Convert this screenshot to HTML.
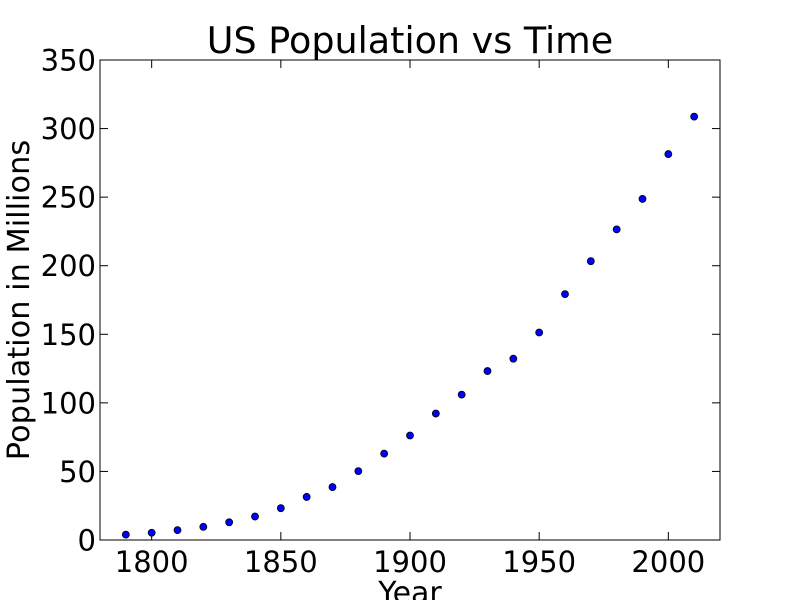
<!DOCTYPE html>
<html><head><meta charset="utf-8"><style>
body{margin:0;background:#fff;}
svg text{font-family:"DejaVu Sans","Liberation Sans",sans-serif;fill:#000;}
</style></head><body>
<svg width="800" height="600" xmlns="http://www.w3.org/2000/svg">
<rect width="800" height="600" fill="#fff"/>
<g id="ticks"></g>
<g id="points"></g>
<rect x="100" y="60" width="620" height="480" fill="none" stroke="#000" stroke-width="1"/>
<text x="410" y="53" font-size="36.5" text-anchor="middle">US Population vs Time</text>
<text x="410" y="603" font-size="30" text-anchor="middle">Year</text>
<text transform="translate(29,300) rotate(-90)" font-size="30.4" text-anchor="middle">Population in Millions</text>
</svg>
<script>
const years=[1790,1800,1810,1820,1830,1840,1850,1860,1870,1880,1890,1900,1910,1920,1930,1940,1950,1960,1970,1980,1990,2000,2010];
const population=[3.9,5.3,7.2,9.6,12.9,17.1,23.2,31.4,38.6,50.2,63.0,76.2,92.2,106.0,123.2,132.2,151.3,179.3,203.3,226.5,248.7,281.4,308.7];
const xTicks=[1800,1850,1900,1950,2000];
const yTicks=[0,50,100,150,200,250,300,350];
const NS="http://www.w3.org/2000/svg";
const X0=100,X1=720,Y0=540,Y1=60,xMin=1780,xMax=2020,yMin=0,yMax=350;
function sx(v){return X0+(v-xMin)/(xMax-xMin)*(X1-X0);}
function sy(v){return Y0-(v-yMin)/(yMax-yMin)*(Y0-Y1);}
function mk(tag,attrs){const e=document.createElementNS(NS,tag);for(const k in attrs)e.setAttribute(k,attrs[k]);return e;}
const tg=document.getElementById('ticks');
xTicks.forEach(t=>{const x=sx(t);
 const a=mk('line',{x1:x,x2:x,y1:Y0,y2:Y0-8,stroke:'#000'});tg.appendChild(a);
 const b=mk('line',{x1:x,x2:x,y1:Y1,y2:Y1+8,stroke:'#000'});tg.appendChild(b);
 const l=mk('text',{x:x,y:Y0+32,'font-size':29,'text-anchor':'middle'});l.textContent=t;tg.appendChild(l);});
yTicks.forEach(t=>{const y=sy(t);
 const a=mk('line',{x1:X0,x2:X0+8,y1:y,y2:y,stroke:'#000'});tg.appendChild(a);
 const b=mk('line',{x1:X1,x2:X1-8,y1:y,y2:y,stroke:'#000'});tg.appendChild(b);
 const l=mk('text',{x:X0-4,y:y+10.5,'font-size':29,'text-anchor':'end'});l.textContent=t;tg.appendChild(l);});
const pg=document.getElementById('points');
years.forEach((yr,i)=>{const c=mk('circle',{cx:sx(yr),cy:sy(population[i]),r:3.5,fill:'#0000ff',stroke:'#000','stroke-width':0.8});
 
 
 pg.appendChild(c);});
</script>
</body></html>
